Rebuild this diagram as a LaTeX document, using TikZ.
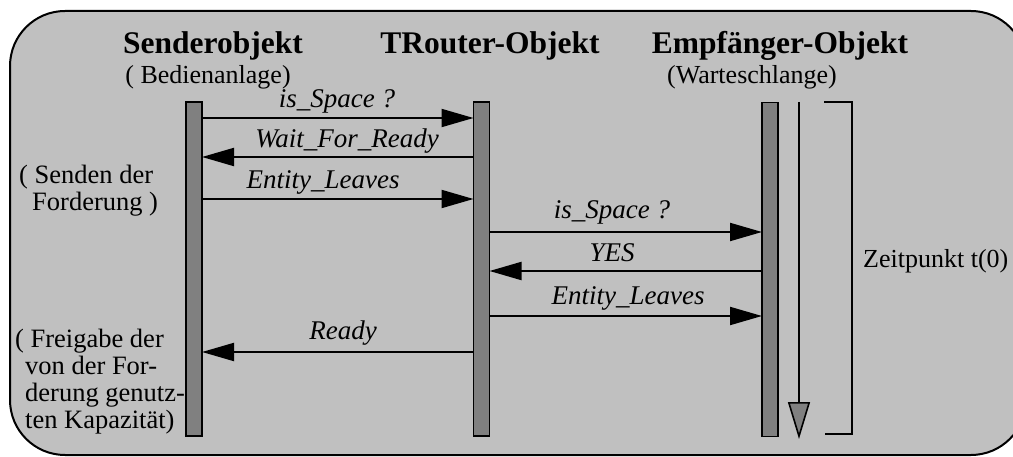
\documentclass[tikz,border=0pt]{standalone}
\usepackage{fontspec}
\setmainfont{Liberation Serif}
\usetikzlibrary{arrows.meta}
\definecolor{bgcol}{HTML}{C0C0C0}
\definecolor{barcol}{HTML}{808080}
\tikzset{
  frame/.style={draw=black, line width=2pt, fill=bgcol, rounded corners=55pt},
  lifebar/.style={draw=black, line width=1.6pt, fill=barcol, minimum width=16pt,
    minimum height=334pt, inner sep=0pt, outer sep=0pt},
  msg/.style={line width=2pt, -{Triangle[length=32pt, width=18pt]}},
  msglabel/.style={anchor=base, inner sep=0pt, font=\fontsize{27}{30}\selectfont\itshape},
  headtitle/.style={anchor=base, inner sep=0pt, font=\fontsize{31.5}{36}\selectfont\bfseries},
  headsub/.style={anchor=base, inner sep=0pt, font=\fontsize{26}{30}\selectfont},
  note/.style={anchor=base west, inner sep=0pt, align=left, font=\fontsize{26.5}{27}\selectfont},
  timeline/.style={line width=2pt, -{Triangle[length=37pt, width=22pt, fill=barcol, line width=1.6pt]}},
  bracketline/.style={line width=2pt}
}
\begin{document}
\begin{tikzpicture}[x=1pt, y=-1pt]
\useasboundingbox (0,0) rectangle (1013,457);
% outer frame
\draw[frame] (10,11) rectangle (1026,455);

% object headings
\node[headtitle] (hs) at (213,54) {Senderobjekt};
\node[headsub] (hs2) at (208,84) {( Bedienanlage)};
\node[headtitle] (hr) at (490,54) {TRouter-Objekt};
\node[headtitle] (he) at (780,54) {Empfänger-Objekt};
\node[headsub] (he2) at (752,84) {(Warteschlange)};

% lifelines
\node[lifebar] (s) at (194,269) {};
\node[lifebar] (r) at (481.5,269) {};
\node[lifebar] (e) at (770,269.5) {};

% message heights
\coordinate (m1) at (0,118);
\coordinate (m2) at (0,157);
\coordinate (m3) at (0,199);
\coordinate (m4) at (0,232);
\coordinate (m5) at (0,271);
\coordinate (m6) at (0,316);
\coordinate (m7) at (0,352);

% messages
\draw[msg] (s.east |- m1) -- (r.west |- m1);
\draw[msg] (r.west |- m2) -- (s.east |- m2);
\draw[msg] (s.east |- m3) -- (r.west |- m3);
\draw[msg] (r.east |- m4) -- (e.west |- m4);
\draw[msg] (e.west |- m5) -- (r.east |- m5);
\draw[msg] (r.east |- m6) -- (e.west |- m6);
\draw[msg] (r.west |- m7) -- (s.east |- m7);

% message labels
\node[msglabel] (l1) at (337,108) {is\_Space ?};
\node[msglabel] (l2) at (347,148) {Wait\_For\_Ready};
\node[msglabel] (l3) at (323,189) {Entity\_Leaves};
\node[msglabel] (l4) at (612,219) {is\_Space ?};
\node[msglabel] (l5) at (612,262) {YES};
\node[msglabel] (l6) at (628,305) {Entity\_Leaves};
\node[msglabel] (l7) at (343,340) {Ready};

% side notes (anchored at the baseline of their last line)
\node[note] (n1) at (19,211) {( Senden der\\\hspace*{13pt}Forderung )};
\node[note] (n2) at (15,428) {( Freigabe der\\\hspace*{10pt}von der For-\\\hspace*{10pt}derung genutz-\\\hspace*{10pt}ten Kapazität)};

% time axis
\coordinate (tA) at (799,102);
\coordinate (tB) at (799,439);
\draw[timeline] (tA) -- (tB);

% bracket
\coordinate (b1) at (824,102);
\coordinate (b2) at (852,102);
\coordinate (b3) at (852,434);
\coordinate (b4) at (825,434);
\draw[bracketline] (b1) -- (b2) -- (b3) -- (b4);
\node[headsub, anchor=base west] (zt) at (863,268) {Zeitpunkt t(0)};
\end{tikzpicture}
\end{document}
